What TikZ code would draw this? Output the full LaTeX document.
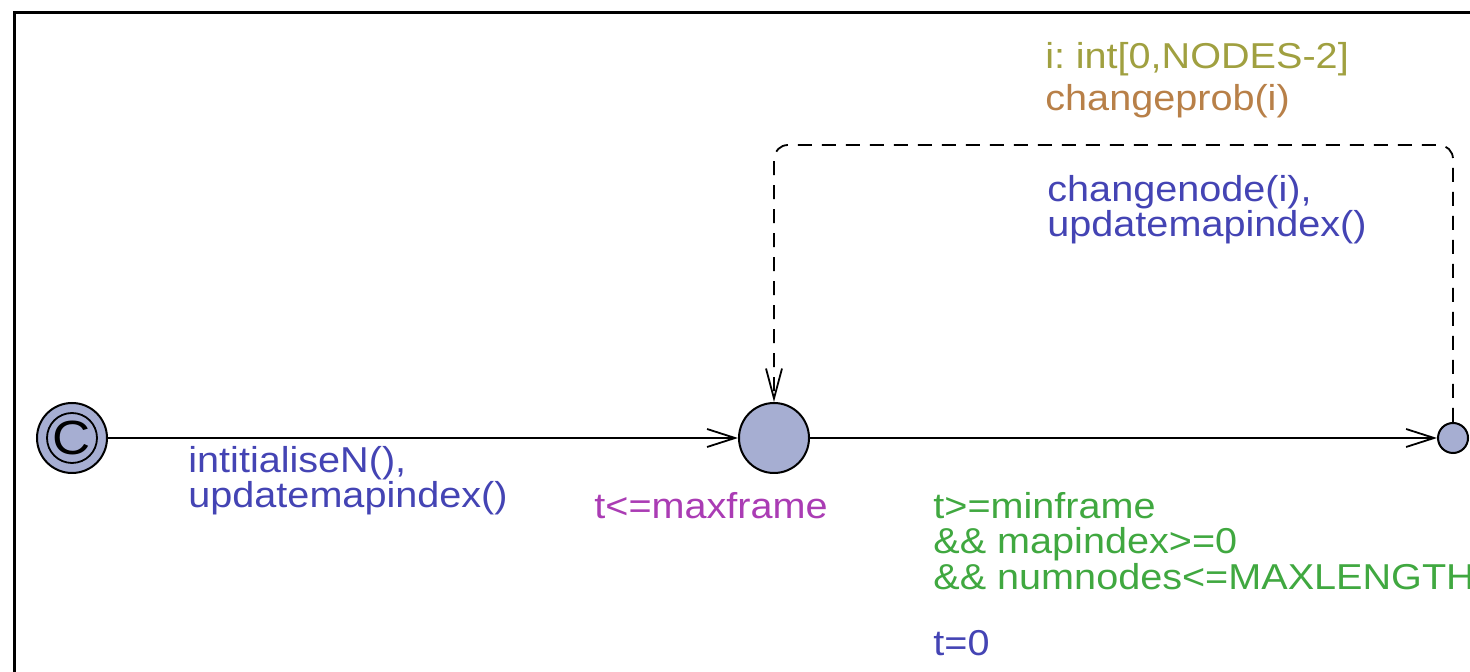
\documentclass[tikz,border=0pt]{standalone}
\usepackage{fontspec}
\setmainfont{Liberation Sans}[FakeStretch=1.1]
\usetikzlibrary{arrows.meta}
\definecolor{nodefill}{RGB}{166,174,210}
\definecolor{updblue}{RGB}{68,68,180}
\definecolor{invpurple}{RGB}{170,60,180}
\definecolor{guardgreen}{RGB}{64,168,64}
\definecolor{selolive}{RGB}{160,160,64}
\definecolor{probbrown}{RGB}{184,128,72}
\tikzset{
  loc/.style={circle, draw=black, line width=1pt, fill=nodefill, inner sep=0pt},
  lab/.style={anchor=base west, inner sep=0pt, align=left, font=\fontsize{18}{17.75}\selectfont},
  edge/.style={line width=1.2pt, -{Straight Barb[length=14pt,width=9pt,line width=0.9pt]}},
  dashedge/.style={line width=0.9pt, dash pattern=on 7pt off 5pt, rounded corners=7pt, -{Straight Barb[length=15pt,width=8pt,line width=0.9pt]}}
}
\begin{document}
\begin{tikzpicture}[x=0.5pt,y=-0.5pt]
\useasboundingbox (0,0) rectangle (1470,672);
% frame
\draw[line width=1.5pt] (14,672) -- (14,13) -- (1470,13);
% locations
\node[loc, minimum size=35pt, font=\fontsize{24}{24}\selectfont] (init) at (72,438) {C};
\draw[line width=0.9pt] (init.center) circle[radius=12.5pt];
\node[loc, minimum size=35pt] (mid) at (774,438) {};
\node[loc, minimum size=15pt] (fin) at (1453,438) {};
% edges
\draw[edge] (init) -- (mid);
\draw[edge] (mid) -- (fin);
\coordinate (cr) at (1453,145);
\coordinate (cl) at (774,145);
\draw[dashedge] (fin.north) -- (cr) -- (cl) -- (mid.north);
% labels
\node[lab, text=updblue] (u1) at (188,508) {intitialiseN(),\\updatemapindex()};
\node[lab, text=invpurple] (inv) at (594,518) {t<=maxframe};
\node[lab, text=guardgreen] (g) at (933,589) {t>=minframe\\\&\& mapindex>=0\\\&\& numnodes<=MAXLENGTH};
\node[lab, text=updblue] (u2) at (933,655) {t=0};
\node[lab, text=selolive] (sel) at (1045,69) {i:\hspace{-2pt} int[0,NODES-2]};
\node[lab, text=probbrown] (prob) at (1045,111) {changeprob(i)};
\node[lab, text=updblue] (u3) at (1047,237) {changenode(i),\\updatemapindex()};
\end{tikzpicture}
\end{document}
